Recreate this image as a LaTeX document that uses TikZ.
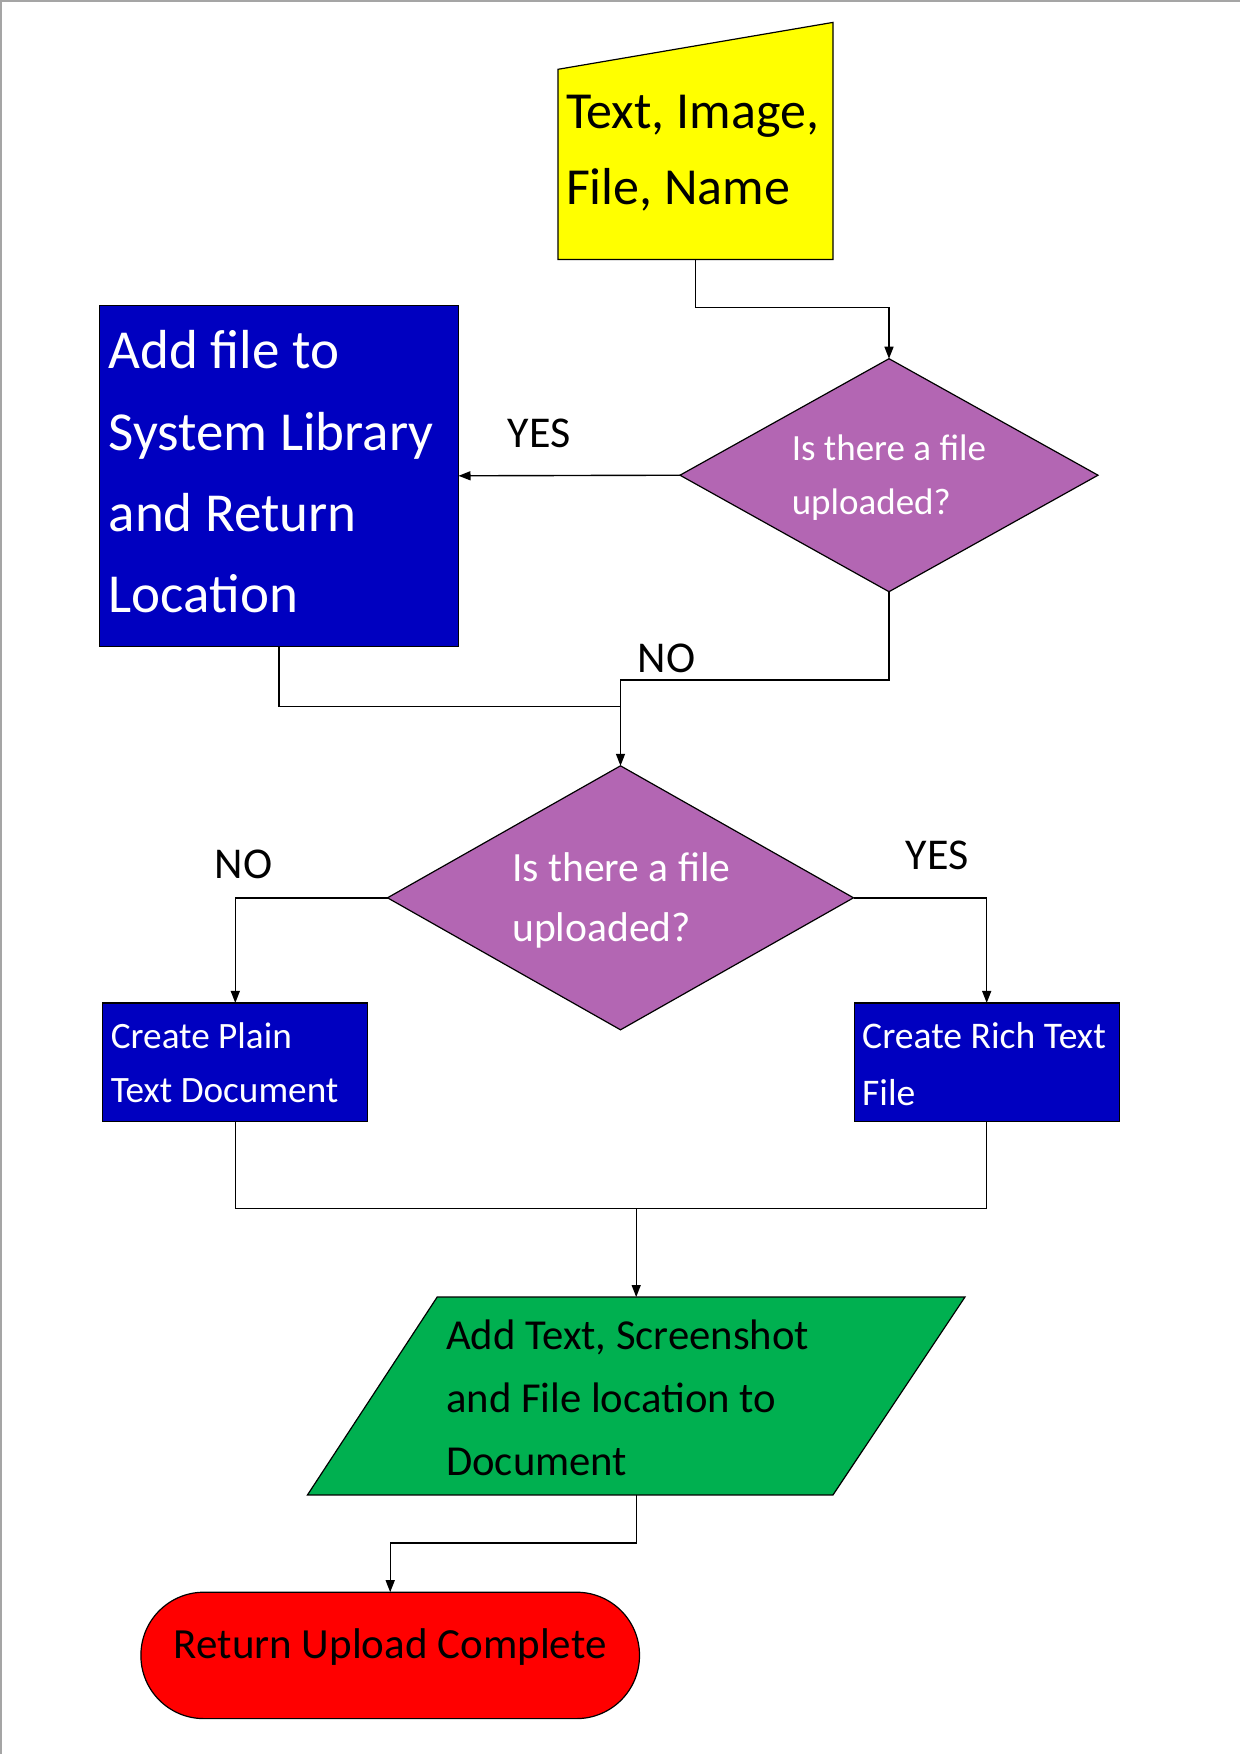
\documentclass[tikz,border=0pt]{standalone}
\usepackage{fontspec}
\setmainfont{Carlito}
\usetikzlibrary{arrows.meta,shapes.geometric}
\definecolor{cyel}{RGB}{255,255,0}
\definecolor{cblue}{RGB}{0,0,192}
\definecolor{cpurp}{RGB}{179,102,179}
\definecolor{cgreen}{RGB}{0,176,80}
\definecolor{cred}{RGB}{255,0,0}
\definecolor{cframe}{RGB}{165,165,165}
\begin{document}
\begin{tikzpicture}[x=1pt,y=-1pt,
  shapeline/.style={draw=black, line width=1.2pt},
  bluebox/.style={shapeline, fill=cblue, inner sep=0pt, outer sep=0pt},
  decision/.style={shapeline, fill=cpurp, diamond, inner sep=0pt, outer sep=0pt},
  conn/.style={draw=black, line width=1.4pt},
  arr/.style={conn, -{Triangle[length=12pt,width=9pt]}},
  txt/.style={inner sep=0pt, anchor=west, align=left},
  lbl/.style={inner sep=0pt, font=\fontsize{44}{50}\selectfont}]
\useasboundingbox (0,0) rectangle (1240,1754);
\fill[white] (0,0) rectangle (1240,1754);
\draw[cframe, line width=2pt] (1,1754) -- (1,1) -- (1240,1);

% input (manual input shape)
\draw[shapeline, fill=cyel] (558,69.3) -- (833,22.4) -- (833,259.4) -- (558,259.4) -- cycle;
\coordinate (inbot) at (695.5,259.4);
\node[txt, font=\fontsize{52}{76}\selectfont] (intxt) at (565.8,153.5) {Text, Image,\\File, Name};

% decision 1
\node[decision, minimum width=418pt, minimum height=233pt] (d1) at (889,475.2) {};
\node[txt, text=white, font=\fontsize{37}{54}\selectfont] (d1txt) at (791.6,477.5) {Is there a file\\uploaded?};

% add file box
\node[bluebox, minimum width=359pt, minimum height=341pt] (add) at (279,475.8) {};
\node[txt, text=white, font=\fontsize{55}{81.3}\selectfont] (addtxt) at (108.5,472) {Add file to\\System Library\\and Return\\Location};

% decision 2
\node[decision, minimum width=466pt, minimum height=264pt] (d2) at (620.5,897.8) {};
\node[txt, text=white, font=\fontsize{41.6}{60.5}\selectfont] (d2txt) at (512,900.5) {Is there a file\\uploaded?};

% plain / rich boxes
\node[bluebox, minimum width=265pt, minimum height=118.6pt] (plain) at (235.3,1062.2) {};
\node[txt, text=white, font=\fontsize{37.2}{54}\selectfont] (plaintxt) at (110.7,1063) {Create Plain\\Text Document};
\node[bluebox, minimum width=265pt, minimum height=118.6pt] (rich) at (986.7,1062.2) {};
\node[txt, text=white, font=\fontsize{37.6}{57}\selectfont] (richtxt) at (862,1064) {Create Rich Text\\File};

% green parallelogram
\draw[shapeline, fill=cgreen] (437.2,1297) -- (965,1297) -- (833,1494.9) -- (307.5,1494.9) -- cycle;
\coordinate (gtop) at (636.2,1297);
\coordinate (gbot) at (636.2,1494.9);
\node[txt, font=\fontsize{42.7}{63.2}\selectfont] (gtxt) at (446,1398) {Add Text, Screenshot\\and File location to\\Document};

% terminal
\node[shapeline, fill=cred, rounded corners=63pt, minimum width=498.6pt, minimum height=126.4pt, inner sep=0pt, outer sep=0pt] (ret) at (390.2,1655.4) {};
\node[inner sep=0pt, font=\fontsize{43}{50}\selectfont] (rettxt) at (390.2,1647) {Return Upload Complete};

% connectors
\draw[arr] (inbot) -- ++(0,48.1) -| (d1.north);
\draw[arr] (d1.west) -- (add.east);
\coordinate (j1) at (620.5,706.6);
\draw[arr] (d1.south) -- ++(0,88.3) -| (d2.north);
\draw[conn] (add.south) |- (j1);
\draw[arr] (d2.west) -| (plain.north);
\draw[arr] (d2.east) -| (rich.north);
\draw[conn] (plain.south) -- ++(0,87.2) -| (rich.south);
\coordinate (j2) at (636.2,1208.7);
\draw[arr] (j2) -- (gtop);
\draw[arr] (gbot) -- ++(0,48.1) -| (ret.north);

% labels
\node[lbl] (yes1) at (539,433.5) {YES};
\node[lbl] (no1) at (666.4,658.5) {NO};
\node[lbl] (no2) at (243.7,864) {NO};
\node[lbl] (yes2) at (937,855) {YES};
\end{tikzpicture}
\end{document}
